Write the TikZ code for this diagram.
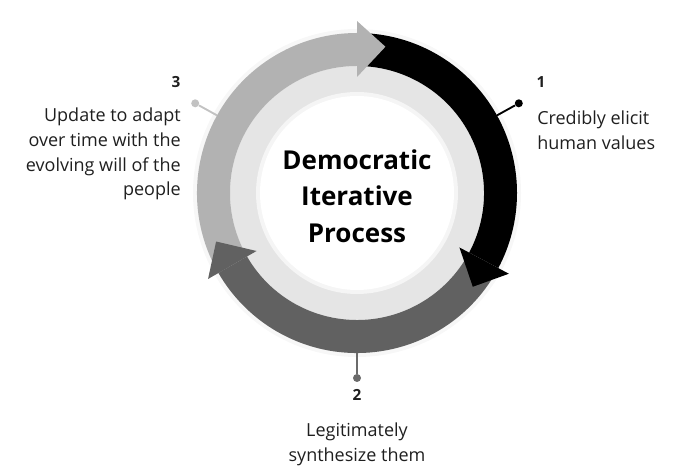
\documentclass[tikz,border=0pt]{standalone}
\usepackage{fontspec}
\setmainfont{Open Sans}
% cuerpo de una flecha del anillo: color, angulo inicial, angulo final
\newcommand{\cuerpoflecha}[3]{%
  \fill[#1] (#2:160) arc[start angle=#2, end angle=#3, radius=160]
    -- (#3:127) arc[start angle=#3, end angle=#2, radius=127] -- cycle;}
% punta de flecha: color, angulo de la base, angulo de la punta
\newcommand{\puntaflecha}[3]{%
  \fill[#1] (#2:172) -- (#3:149) -- (#2:116) -- cycle;}
\begin{document}
\begin{tikzpicture}[x=0.75pt, y=0.75pt,
    etiqueta/.style={font=\fontsize{13.5}{18.6}\selectfont, text=black!88, inner sep=0pt},
    numero/.style={font=\fontsize{11.5}{12}\selectfont\bfseries, text=black!88, inner sep=0pt},
    titulo/.style={font=\fontsize{19.5}{27.5}\selectfont\bfseries, align=center, inner sep=0pt},
    punto/.style={circle, fill=#1, inner sep=0pt, minimum size=6pt},
    enlace/.style={draw=#1, line width=1.4pt}]
    \useasboundingbox (0,0) rectangle (677,473);
    \begin{scope}[shift={(357,280)}]
        % Sombra y zona interior
        \fill[black!3] (0,0) circle (164);
        \fill[black!10] (0,0) circle (127);
        \fill[black!4] (0,0) circle (101);
        \fill[white] (0,0) circle (97);
        % Anillo de flechas
        \cuerpoflecha{black!30}{210}{90}
        \cuerpoflecha{black}{90}{-28}
        \cuerpoflecha{black!62}{-28}{-150}
        \puntaflecha{black!30}{90}{79}
        \puntaflecha{black}{-28}{-39}
        \puntaflecha{black!62}{-150}{-161}
        % Marcadores
        \coordinate (a1) at (29:160);
        \coordinate (a2) at (270:160);
        \coordinate (a3) at (151:160);
        \node[punto=black] (p1) at (29:185) {};
        \node[punto=black!58] (p2) at (270:185) {};
        \node[punto=black!24] (p3) at (151:185) {};
        \draw[enlace=black] (a1) -- (p1);
        \draw[enlace=black!58] (a2) -- (p2);
        \draw[enlace=black!24] (a3) -- (p3);
        % Titulo
        \node[titulo] (centro) at (0,-3) {Democratic\\Iterative\\Process};
    \end{scope}
    % Etiquetas
    \node[numero] (n1) at (541,391) {1};
    \node[numero] (n2) at (357,78) {2};
    \node[numero] (n3) at (176,391) {3};
    \node[etiqueta, anchor=west, align=left] (t1) at (537,343)
        {Credibly elicit\\human values};
    \node[etiqueta, align=center] (t2) at (357,29)
        {Legitimately\\synthesize them};
    \node[etiqueta, anchor=east, align=right] (t3) at (181,319)
        {Update to adapt\\over time with the\\evolving will of the\\people};
\end{tikzpicture}
\end{document}
